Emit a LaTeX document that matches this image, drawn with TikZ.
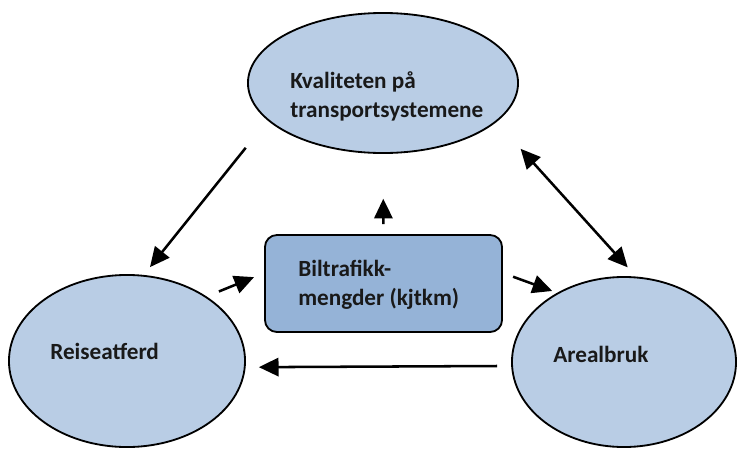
\documentclass[tikz,border=0pt]{standalone}
\usepackage{fontspec}
\setmainfont{Carlito}
\usetikzlibrary{arrows.meta,shapes.geometric}
\definecolor{lysbla}{HTML}{B9CDE5}
\definecolor{mellombla}{HTML}{95B3D7}
\tikzset{
>={Triangle[length=14pt,width=13pt]},
oval node/.style={ellipse,draw,line width=1.3pt,fill=lysbla,inner sep=0pt},
boks node/.style={rectangle,draw,line width=1.3pt,fill=mellombla,rounded corners=0.3cm,inner sep=0pt},
tekst/.style={anchor=base west,inner sep=0pt,align=left,text=black!90,
  font=\bfseries\fontsize{16.5}{20}\selectfont},
pil/.style={->,line width=1.8pt}}

\begin{document}
\begin{tikzpicture}[x=0.025cm,y=-0.025cm]

\useasboundingbox (0,0) rectangle (737,448);
\node[oval node,minimum width=6.75cm,minimum height=3.5cm] (kval) at (383,83) {};
\node[oval node,minimum width=5.9cm,minimum height=4.3cm] (reise) at (127,361) {};
\node[oval node,minimum width=5.6cm,minimum height=4.25cm] (areal) at (624,362) {};
\node[boks node,minimum width=5.925cm,minimum height=2.425cm] (bil) at (383.5,283.5) {};

% multi-line nodes sit on their last baseline
\node[tekst] (kvaltekst) at (290,117) {Kvaliteten på\\transportsystemene};
\node[tekst] (biltekst) at (298,305) {Biltrafikk-\\mengder (kjtkm)};
\node[tekst] (reisetekst) at (50,359) {Reiseatferd};
\node[tekst] (arealtekst) at (553,362) {Arealbruk};

\path[pil] (kval.198.6) edge[shorten <=0.875cm,shorten >=0.25cm] (reise.79);
\path[pil] (kval.341.4) edge[<->,shorten <=0.9cm,shorten >=0.31cm] (areal.82.9);
\path[pil] (bil.north) edge[shorten <=0.25cm,shorten >=1.12cm] (kval.south);

\path[pil] (reise.39) edge[shorten <=0.33cm,shorten >=0.27cm] (bil.175);
\path[pil] (bil.5) edge[shorten <=0.27cm,shorten >=0.13cm] (areal.134.6);
\path[pil] (areal.182.6) edge[shorten <=0.35cm,shorten >=0.33cm] (reise.357.1);

\end{tikzpicture}
\end{document}
